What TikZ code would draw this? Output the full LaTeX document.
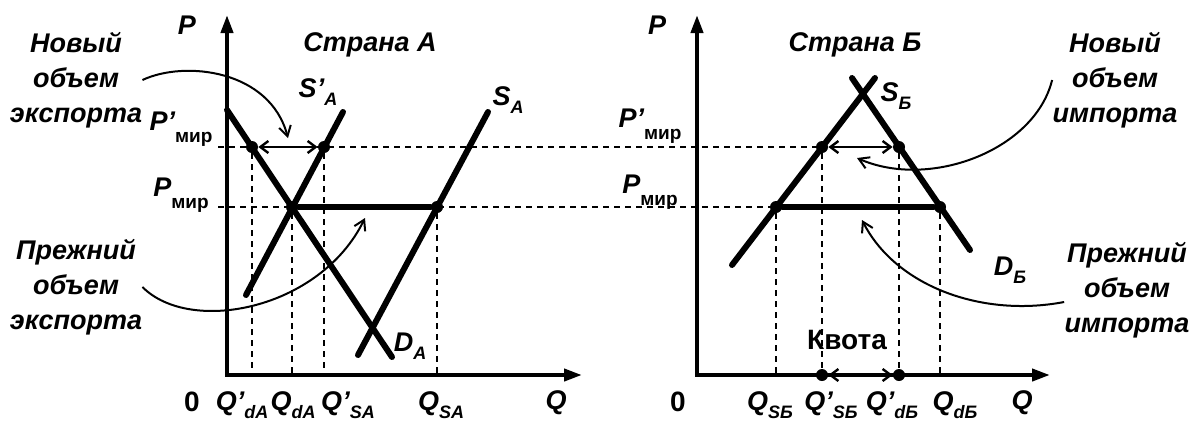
\documentclass[tikz,border=0pt]{standalone}
\usepackage{fontspec}
\setmainfont{Liberation Sans}
\usetikzlibrary{arrows.meta,positioning}

% label with a lowered index
\newcommand{\ql}[2]{#1\raisebox{-4pt}{\fontsize{9}{9}\selectfont #2}}
\newcommand{\pmir}[1]{#1\raisebox{-6pt}{\fontsize{9.5}{9.5}\selectfont\upshape мир}}

\tikzset{
  axis/.style={line width=2pt,{Triangle[length=9pt,width=6pt]}-{Triangle[length=9pt,width=6pt]}},
  curve/.style={line width=3pt,line cap=round},
  guide/.style={line width=1pt,dash pattern=on 3pt off 2.5pt},
  flow/.style={line width=1.2pt,{Straight Barb[length=4pt,width=6pt]}-{Straight Barb[length=4pt,width=6pt]}},
  bender/.style={line width=1pt,-{Straight Barb[length=5pt,width=6pt]}},
  dot/.style={circle,fill,inner sep=0pt,minimum size=6pt},
  lab/.style={font=\fontsize{13.5}{17.5}\selectfont\bfseries\itshape,inner sep=0pt,align=center},
}

\begin{document}
\begin{tikzpicture}[x=0.5pt,y=-0.5pt]
\useasboundingbox (0,0) rectangle (1200,436);

% ---------- Страна А ----------
\coordinate (oA) at (227,375);
\coordinate (topA) at (227,15);
\coordinate (endA) at (582,375);
\draw[axis] (topA) -- (oA) -- (endA);

\node[lab] (PA) at (187,25) {P};
\node[lab,font=\fontsize{14}{14}\selectfont\bfseries] (zeroA) at (192,402) {0};
\node[lab] (titleA) at (370,45) {Страна А};
\node[lab] (pmA1) at (181,129) {\pmir{P'}};
\node[lab] (pmA0) at (181,195) {\pmir{P}};

\coordinate (hA1) at (218,147);
\coordinate (hA0) at (218,207);

% curves
\coordinate (dA1) at (227,110);  \coordinate (dA2) at (392,357);
\coordinate (sA1) at (358,355);  \coordinate (sA2) at (488,112);
\coordinate (tA1) at (246,295);  \coordinate (tA2) at (343,112);

% points
\node[dot] (a1) at (252,147) {};
\node[dot] (a2) at (324,147) {};
\node[dot] (a3) at (292,207) {};
\node[dot] (a4) at (437,207) {};

\draw[guide] (a1) -- (a1|-oA);
\draw[guide] (a3) -- (a3|-oA);
\draw[guide] (a2) -- (a2|-oA);
\draw[guide] (a4) -- (a4|-oA);

\draw[curve] (dA1) -- (dA2);
\draw[curve] (sA1) -- (sA2);
\draw[curve] (tA1) -- (tA2);
\draw[curve] (a3) -- (a4);
\draw[flow] (a1) -- (a2);

\node[lab] (labT) at (318,92) {\ql{S'}{A}};
\node[lab] (labS) at (508,100) {\ql{S}{A}};
\node[lab] (labD) at (410,346) {\ql{D}{A}};

\node[lab] (q1) at (242,405) {\ql{Q'}{dA}};
\node[lab] (q2) at (293,405) {\ql{Q}{dA}};
\node[lab] (q3) at (348,405) {\ql{Q'}{SA}};
\node[lab] (q4) at (441,405) {\ql{Q}{SA}};
\node[lab] (qA) at (556,403) {Q};

\node[lab] (newExp) at (76,80) {Новый\\объем\\экспорта};
\node[lab] (oldExp) at (76,287) {Прежний\\объем\\экспорта};
\coordinate (tipA1) at (288,138);
\coordinate (tipA2) at (365,218);
\draw[bender] (newExp.east) .. controls (185,60) and (270,70) .. (tipA1);
\draw[bender] (oldExp.east) .. controls (190,335) and (320,310) .. (tipA2);

% ---------- Страна Б ----------
\coordinate (oB) at (697,375);
\coordinate (topB) at (697,15);
\coordinate (endB) at (1050,375);
\draw[axis] (topB) -- (oB) -- (endB);

\node[lab] (PB) at (657,25) {P};
\node[lab,font=\fontsize{14}{14}\selectfont\bfseries] (zeroB) at (678,402) {0};
\node[lab] (titleB) at (855,45) {Страна Б};
\node[lab] (pmB1) at (650,126) {\pmir{P'}};
\node[lab] (pmB0) at (650,192) {\pmir{P}};

\coordinate (sB1) at (732,265);  \coordinate (sB2) at (875,78);
\coordinate (dB1) at (852,78);   \coordinate (dB2) at (970,250);

\node[dot] (b1) at (822,147) {};
\node[dot] (b2) at (899,147) {};
\node[dot] (b3) at (776,207) {};
\node[dot] (b4) at (940,207) {};
\node[dot] (k1) at (822,375) {};
\node[dot] (k2) at (899,375) {};

\draw[guide] (hA1) -- (b1);
\draw[guide] (hA0) -- (b3);
\draw[guide] (b1) -- (k1);
\draw[guide] (b2) -- (k2);
\draw[guide] (b3) -- (b3|-oB);
\draw[guide] (b4) -- (b4|-oB);

\draw[curve] (sB1) -- (sB2);
\draw[curve] (dB1) -- (dB2);
\draw[curve] (b3) -- (b4);
\draw[flow] (b1) -- (b2);
\draw[flow] (k1) -- (k2);

\node[lab,font=\fontsize{14}{14}\selectfont\bfseries] (quota) at (847,340) {Квота};
\node[lab] (labSB) at (896,96) {\ql{S}{Б}};
\node[lab] (labDB) at (1010,270) {\ql{D}{Б}};

\node[lab] (r1) at (770,405) {\ql{Q}{SБ}};
\node[lab] (r2) at (831,405) {\ql{Q'}{SБ}};
\node[lab] (r3) at (892,405) {\ql{Q'}{dБ}};
\node[lab] (r4) at (955,405) {\ql{Q}{dБ}};
\node[lab] (qB) at (1022,403) {Q};

\node[lab] (newImp) at (1115,80) {Новый\\объем\\импорта};
\node[lab] (oldImp) at (1127,290) {Прежний\\объем\\импорта};
\coordinate (tipB1) at (857,158);
\coordinate (tipB2) at (862,220);
\draw[bender] (newImp.west) .. controls (1035,150) and (930,190) .. (tipB1);
\draw[bender] ([yshift=-6pt]oldImp.west) .. controls (980,318) and (895,285) .. (tipB2);
\end{tikzpicture}
\end{document}
